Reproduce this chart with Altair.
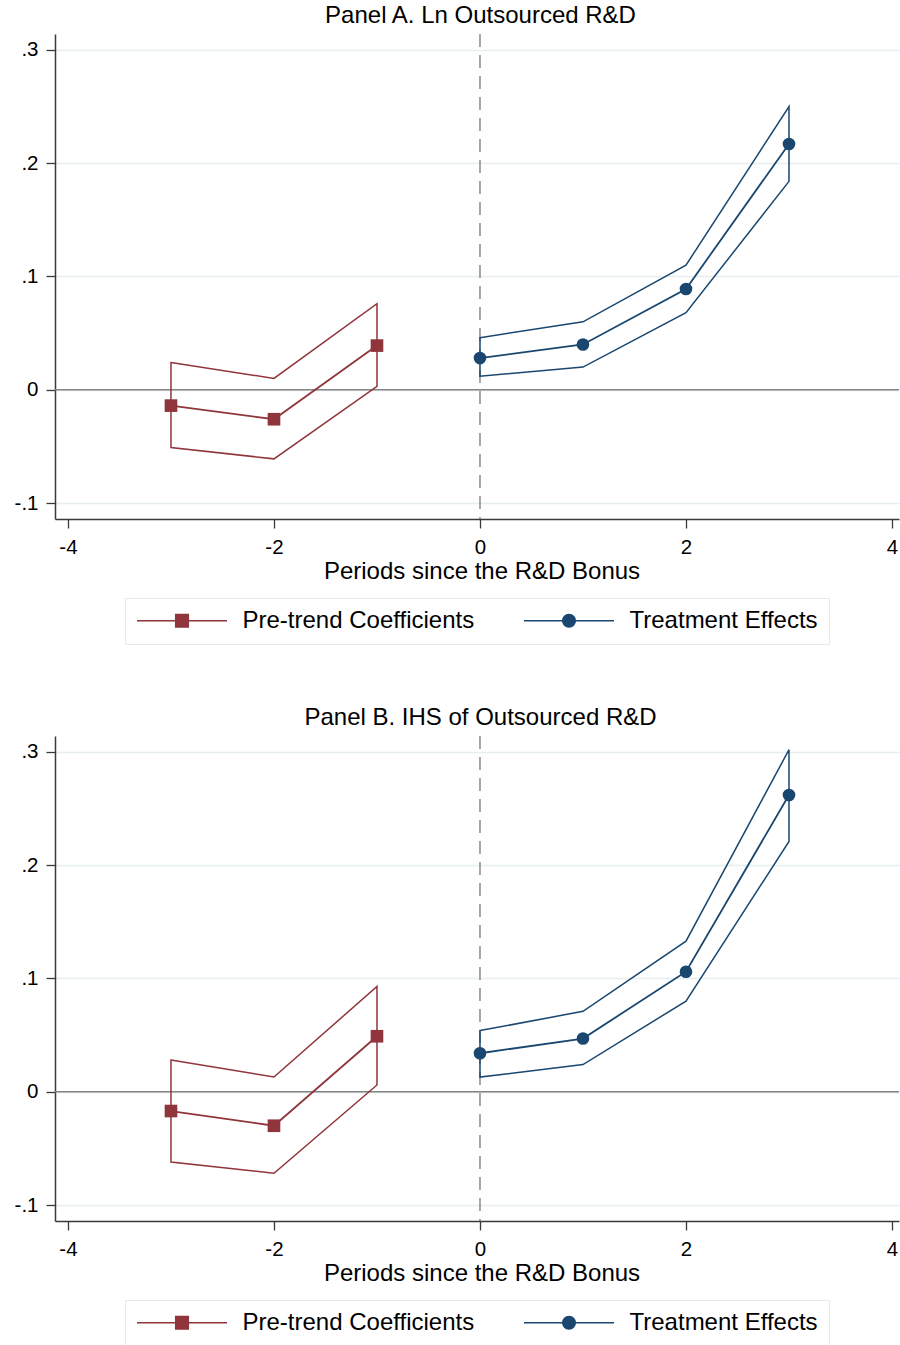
import altair as alt
import pandas as pd

# ---------------- data ----------------
periods_pre = [-3, -2, -1]
periods_post = [0, 1, 2, 3]

A_pre_coef = [-0.014, -0.026, 0.039]
A_pre_lo = [-0.051, -0.061, 0.003]
A_pre_hi = [0.024, 0.010, 0.076]
A_post_coef = [0.028, 0.040, 0.089, 0.217]
A_post_lo = [0.012, 0.020, 0.068, 0.184]
A_post_hi = [0.046, 0.060, 0.110, 0.250]

B_pre_coef = [-0.017, -0.030, 0.049]
B_pre_lo = [-0.062, -0.072, 0.006]
B_pre_hi = [0.028, 0.013, 0.093]
B_post_coef = [0.034, 0.047, 0.106, 0.262]
B_post_lo = [0.013, 0.024, 0.080, 0.221]
B_post_hi = [0.054, 0.071, 0.133, 0.302]

series_names = ["Pre-trend Coefficients", "Treatment Effects"]
titles = ["Panel A. Ln Outsourced R&D", "Panel B. IHS of Outsourced R&D"]
x_title = "Periods since the R&D Bonus"
x_ticks = [-4, -2, 0, 2, 4]
y_ticks = [-0.1, 0, 0.1, 0.2, 0.3]

# ---------------- style ----------------
RED = "#90353b"
BLUE = "#1a476f"
FONT = "Liberation Sans"
AXIS_COLOR = "#3a3a3a"
GRID = "#e6eef0"
W, H = 844, 485
TXT = 24

SQ_LEG = "M-1,0H1M-0.14,-0.14H0.14V0.14H-0.14Z"
CI_LEG = "M-1,0H1M-0.14,0A0.14,0.14 0 1,0 0.14,0A0.14,0.14 0 1,0 -0.14,0Z"

xscale = alt.Scale(domain=[-4.126, 4.068], nice=False, zero=False)
yscale = alt.Scale(domain=[-0.1141, 0.3141], nice=False, zero=False)

xaxis = alt.Axis(
    values=x_ticks, grid=False, labelFlush=False, labelFontSize=20.5, labelFont=FONT,
    labelColor="black", labelPadding=9, tickSize=9, tickWidth=1.3, tickColor=AXIS_COLOR,
    domainColor=AXIS_COLOR, domainWidth=1.5, title=x_title, titleFontSize=TXT,
    titleFont=FONT, titleFontWeight="normal", titleColor="black", titlePadding=2,
    titleX=426.5, titleAlign="center", labelExpr="'' + datum.value",
)
yaxis = alt.Axis(
    values=y_ticks, grid=True, gridColor=GRID, gridWidth=1.5, labelFontSize=20.5,
    labelFont=FONT, labelColor="black", labelPadding=8, tickSize=9, tickWidth=1.3,
    tickColor=AXIS_COLOR, domainColor=AXIS_COLOR, domainWidth=1.5, title=None,
    minExtent=50, maxExtent=50, labelFlush=False,
    labelExpr="datum.value == 0 ? '0' : replace('' + datum.value, '0.', '.')",
)


def X(field):
    return alt.X(field, type="quantitative", scale=xscale, axis=xaxis)


def Y(field):
    return alt.Y(field, type="quantitative", scale=yscale, axis=yaxis)


def frame(periods, coef, lo, hi, name):
    return pd.DataFrame({"period": periods, "coef": coef, "lo": lo, "hi": hi, "series": name})


def panel(title, pre, post):
    both = pd.concat([pre, post], ignore_index=True)

    zero = alt.Chart(pd.DataFrame({"z": [0]})).mark_rule(
        color="#858585", strokeWidth=1.5
    ).encode(y=Y("z"))
    vline = alt.Chart(pd.DataFrame({"v": [0]})).mark_rule(
        color="#8a8a8a", strokeWidth=1.5, strokeDash=[13, 8]
    ).encode(x=X("v"))

    layers = [zero, vline]
    for df, col, shp in [(pre, RED, "square"), (post, BLUE, "circle")]:
        base = alt.Chart(df)
        layers.append(
            base.mark_area(fillOpacity=0, stroke=col, strokeWidth=1.5, color=col)
            .encode(x=X("period"), y=Y("hi"), y2="lo")
        )
        layers.append(
            base.mark_line(color=col, strokeWidth=1.8).encode(x=X("period"), y=Y("coef"))
        )
        layers.append(
            base.mark_point(filled=True, shape=shp, size=160, color=col, opacity=1)
            .encode(x=X("period"), y=Y("coef"))
        )

    leg = alt.Legend(
        title=None, orient="none", legendX=70, legendY=564, direction="horizontal",
        columns=2, columnPadding=48, padding=11, clipHeight=23, symbolSize=8100,
        symbolStrokeWidth=1.5, symbolOffset=0, labelFontSize=TXT, labelFont=FONT,
        labelColor="black", labelOffset=14.5, labelLimit=500,
        strokeColor="#e3eaec", fillColor="white",
    )
    cscale = alt.Scale(domain=series_names, range=[RED, BLUE])
    sscale = alt.Scale(domain=series_names, range=[SQ_LEG, CI_LEG])
    legend_layer = (
        alt.Chart(both)
        .transform_filter("false")
        .mark_point(filled=True, opacity=1)
        .encode(
            x=X("period"), y=Y("coef"),
            fill=alt.Fill("series:N", scale=cscale, legend=leg),
            stroke=alt.Stroke("series:N", scale=cscale, legend=leg),
            shape=alt.Shape("series:N", scale=sscale, legend=leg),
        )
    )
    layers.append(legend_layer)

    return alt.layer(*layers).properties(
        width=W, height=H,
        view=alt.ViewBackground(stroke="white", strokeWidth=0, strokeOpacity=0),
        title=alt.TitleParams(
            text=title, fontSize=TXT, font=FONT, fontWeight="normal", color="black",
            anchor="middle", dx=3.5, offset=5,
        ),
    )


pA = panel(
    titles[0],
    frame(periods_pre, A_pre_coef, A_pre_lo, A_pre_hi, series_names[0]),
    frame(periods_post, A_post_coef, A_post_lo, A_post_hi, series_names[1]),
)
pB = panel(
    titles[1],
    frame(periods_pre, B_pre_coef, B_pre_lo, B_pre_hi, series_names[0]),
    frame(periods_post, B_post_coef, B_post_lo, B_post_hi, series_names[1]),
)

chart = (
    alt.vconcat(pA, pB, spacing=61)
    .resolve_scale(fill="independent", stroke="independent", shape="independent")
    .resolve_legend(fill="independent", stroke="independent", shape="independent")
    .properties(padding={"left": 5, "top": 4, "right": 0, "bottom": 0})
    .configure_view(stroke="white", strokeWidth=0, strokeOpacity=0)
    .configure(background="white")
)

chart.save("out.html", embed_options={"renderer": "svg", "actions": False})
